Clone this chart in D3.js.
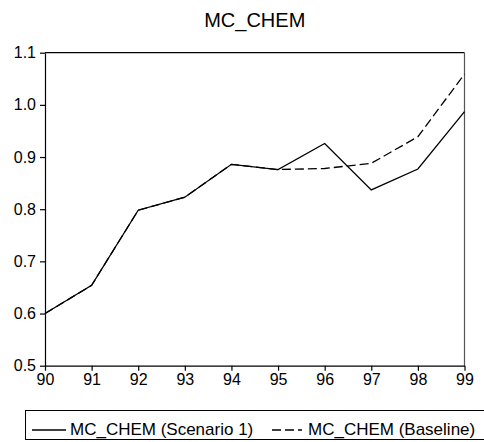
<!DOCTYPE html>
<html>
<head>
<meta charset="utf-8">
<script src="https://cdn.jsdelivr.net/npm/d3@7"></script>
<style>
html,body{margin:0;padding:0;background:#fff;}
svg{display:block;font-family:"Liberation Sans",Arial,sans-serif;}
</style>
</head>
<body>
<svg id="chart" width="484" height="442"></svg>
<script>
const years = ["90","91","92","93","94","95","96","97","98","99"];
const scenario1 = [0.600,0.654,0.798,0.823,0.886,0.876,0.926,0.837,0.877,0.987];
const baseline  = [0.600,0.654,0.798,0.823,0.886,0.876,0.878,0.888,0.939,1.059];
const yTicks = [0.5,0.6,0.7,0.8,0.9,1.0,1.1];
const seriesNames = ["MC_CHEM (Scenario 1)","MC_CHEM (Baseline)"];
const title = "MC_CHEM";

const svg = d3.select("#chart");
const L = 45, R = 464.5, T = 52.7, B = 365.7;

const x = d3.scalePoint().domain(years).range([L, R]);
const y = d3.scaleLinear().domain([0.5, 1.1]).range([B, T]);

svg.append("text").attr("x", (L+R)/2).attr("y", 27).attr("text-anchor","middle")
  .attr("font-size", 20).attr("fill","#000").text(title);

// frame top and right
svg.append("line").attr("x1",L).attr("x2",R).attr("y1",T).attr("y2",T).attr("stroke","#000").attr("stroke-width",1.2);
svg.append("line").attr("x1",R).attr("x2",R).attr("y1",T).attr("y2",B).attr("stroke","#555").attr("stroke-width",1.2);

const xAxis = svg.append("g").attr("transform",`translate(0,${B})`)
  .call(d3.axisBottom(x).tickSize(5).tickSizeOuter(0).tickPadding(3));
const yAxis = svg.append("g").attr("transform",`translate(${L},0)`)
  .call(d3.axisLeft(y).tickValues(yTicks).tickFormat(d3.format(".1f")).tickSize(5).tickSizeOuter(0).tickPadding(4));
[xAxis,yAxis].forEach(g=>{
  g.selectAll("path").attr("stroke","#000").attr("stroke-width",1.2);
  g.selectAll("line").attr("stroke","#000").attr("stroke-width",1.2);
  g.selectAll("text").attr("font-size",16).attr("fill","#000").attr("font-family","Liberation Sans, Arial, sans-serif");
});

const line = d3.line().x((d,i)=>x(years[i])).y(d=>y(d));
svg.append("path").datum(baseline).attr("d",line).attr("fill","none")
  .attr("stroke","#000").attr("stroke-width",1.3).attr("stroke-dasharray","9,4");
svg.append("path").datum(scenario1).attr("d",line).attr("fill","none")
  .attr("stroke","#000").attr("stroke-width",1.3);

// legend
const lg = svg.append("g");
lg.append("rect").attr("x",25.5).attr("y",410.5).attr("width",470).attr("height",29)
  .attr("fill","none").attr("stroke","#000").attr("stroke-width",1);
lg.append("line").attr("x1",32).attr("x2",66).attr("y1",430).attr("y2",430).attr("stroke","#000").attr("stroke-width",1.3);
lg.append("text").attr("x",70).attr("y",435).attr("font-size",17).attr("fill","#000").text(seriesNames[0]);
lg.append("line").attr("x1",272).attr("x2",302).attr("y1",430).attr("y2",430).attr("stroke","#000").attr("stroke-width",1.3).attr("stroke-dasharray","9,4");
lg.append("text").attr("x",308).attr("y",435).attr("font-size",17).attr("fill","#000").text(seriesNames[1]);
</script>
</body>
</html>
